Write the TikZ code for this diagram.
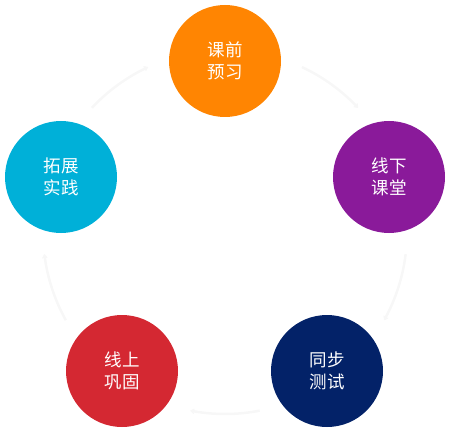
\documentclass[tikz,border=0pt]{standalone}
\usepackage{fontspec}
\setmainfont{Noto Sans CJK SC}
\usetikzlibrary{arrows.meta, bending}
\definecolor{preorange}{RGB}{255,133,2}
\definecolor{classpurple}{RGB}{138,26,154}
\definecolor{testnavy}{RGB}{3,34,104}
\definecolor{onlinered}{RGB}{212,40,50}
\definecolor{extcyan}{RGB}{0,176,216}
\definecolor{ringgray}{RGB}{247,247,247}
\tikzstyle{stage}=[circle, minimum size=112pt, inner sep=0pt, text=white, align=center,
  font=\fontsize{17.5}{22}\selectfont]
\tikzstyle{ring}=[ringgray, line width=2.5pt, -{Stealth[bend,round,length=5pt,width=7pt]}]

\begin{document}
\begin{tikzpicture}[x=1pt, y=1pt]
  \useasboundingbox (0,0) rectangle (450,432);
  \coordinate (c) at (225,200);
  % ring arcs between the stages
  \foreach \m in {54,-18,-90,-162,126}
    \draw[ring] (c) ++(\m+11:182) arc[start angle=\m+11, end angle=\m-11, radius=182];
  \node[stage, fill=preorange]   (pre)    at (225,371) {课前\\预习};
  \node[stage, fill=classpurple] (class)  at (389,255) {线下\\课堂};
  \node[stage, fill=testnavy]    (test)   at (327,61)  {同步\\测试};
  \node[stage, fill=onlinered]   (online) at (122,61)  {线上\\巩固};
  \node[stage, fill=extcyan]     (ext)    at (61,255)  {拓展\\实践};
\end{tikzpicture}
\end{document}
